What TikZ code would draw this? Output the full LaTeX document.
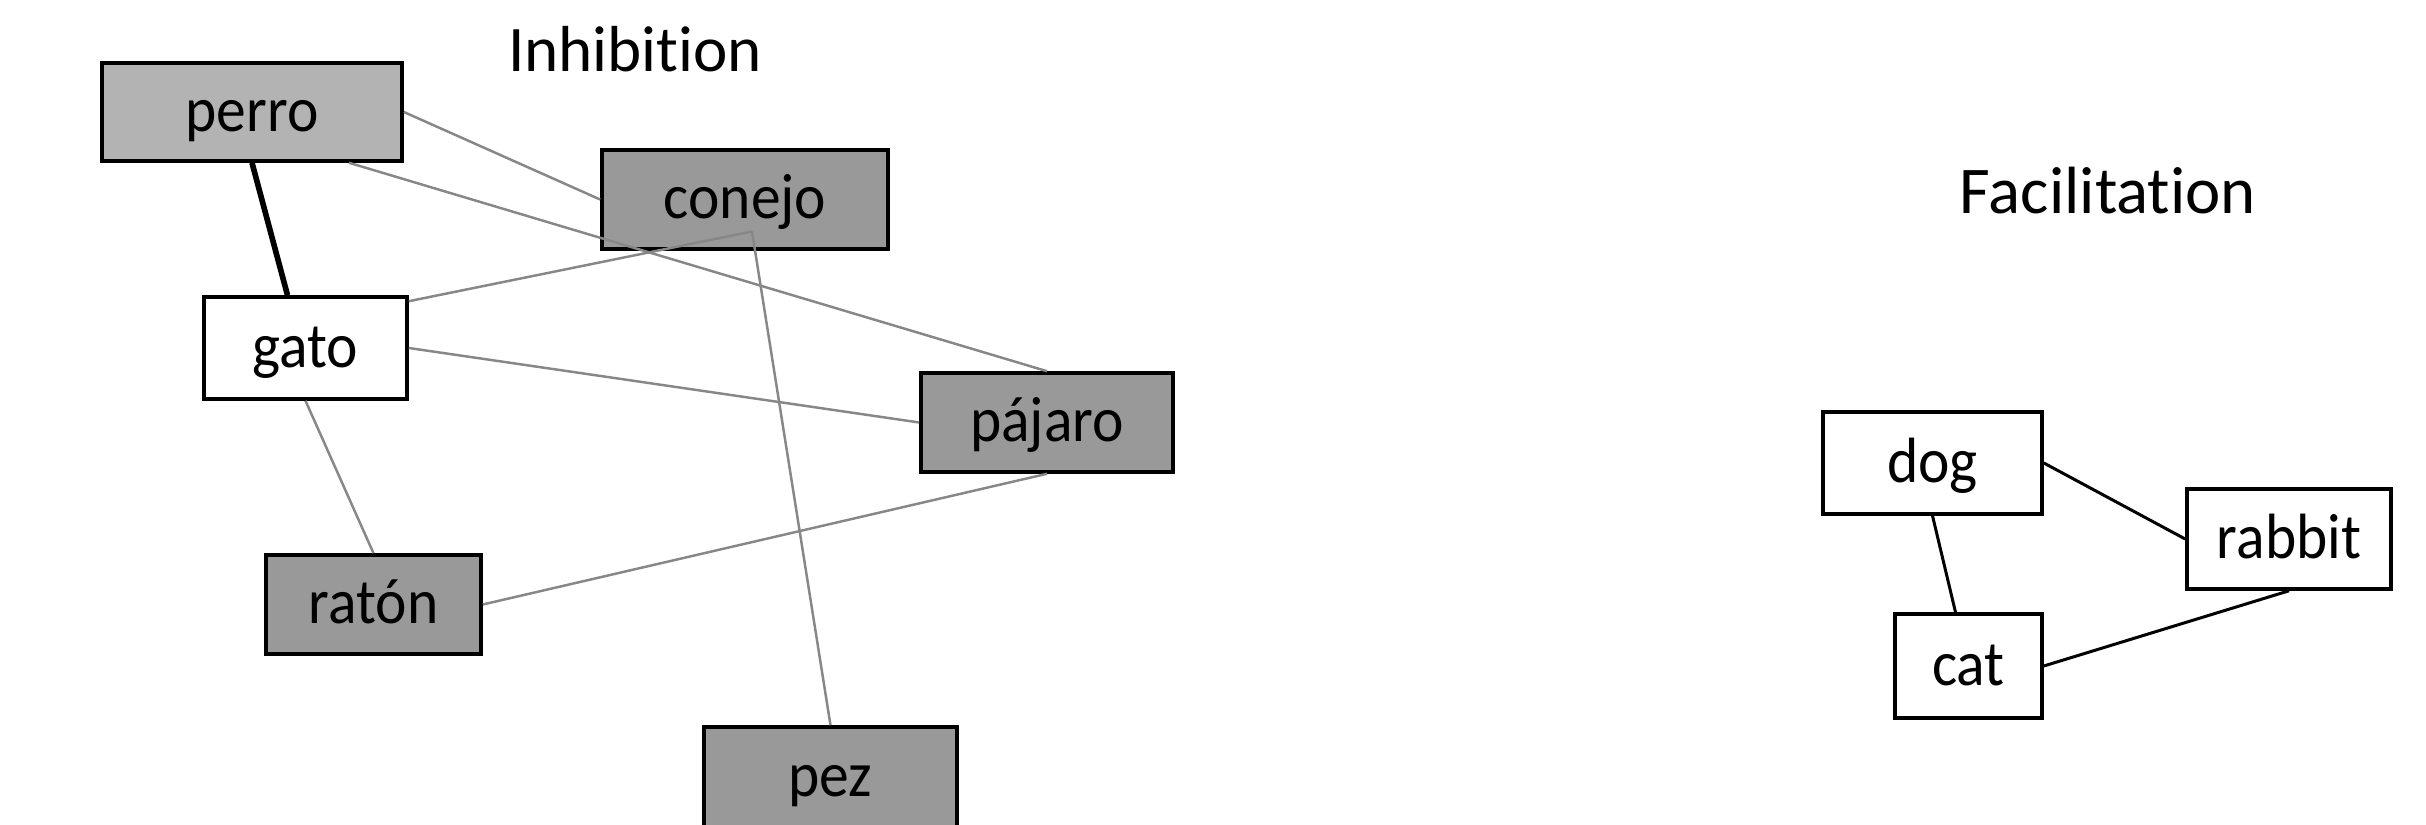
\documentclass[tikz,border=0pt]{standalone}
\usepackage{fontspec}
\setmainfont{Carlito}[Ligatures=NoCommon, RawFeature={-liga;-clig}]
\newfontfamily\boxfont{Carlito}[FakeStretch=0.93, Ligatures=NoCommon, RawFeature={-liga;-clig}]
\usetikzlibrary{calc}
\definecolor{lightfill}{RGB}{179,179,179}
\definecolor{darkfill}{RGB}{153,153,153}
\definecolor{linkgray}{RGB}{135,135,135}
\begin{document}
\begin{tikzpicture}[x=0.01cm,y=-0.01cm,
  word/.style={draw=black, line width=1pt, inner sep=0pt,
    font=\boxfont\fontsize{18.2}{22}\selectfont, text height=0.44cm, text depth=0.06cm},
  light/.style={word, fill=lightfill},
  dark/.style={word, fill=darkfill},
  plain/.style={word, fill=white},
  title/.style={anchor=base, inner sep=0pt, font=\fontsize{18.5}{22}\selectfont},
  weak/.style={draw=linkgray, line width=0.7pt},
  strong/.style={draw=black, line width=1.6pt},
  link/.style={draw=black, line width=0.85pt}]
\clip (0,0) rectangle (2426,825);
\fill[white] (0,0) rectangle (2426,825);

% Inhibition network
\node[title] (inh) at (635,72) {Inhibition};
\node[light, minimum width=3cm, minimum height=0.98cm] (perro) at (252,112) {perro};
\node[dark, minimum width=2.86cm, minimum height=0.99cm] (conejo) at (745,199.5) {conejo};
\node[plain, minimum width=2.03cm, minimum height=1.02cm] (gato) at (305.5,348) {gato};
\node[dark, minimum width=2.52cm, minimum height=0.99cm] (pajaro) at (1047,422.5) {pájaro};
\node[dark, minimum width=2.15cm, minimum height=0.99cm] (raton) at (373.5,604.5) {ratón};
\node[dark, minimum width=2.53cm, minimum height=1.0cm] (pez) at (830.5,777) {pez};

\coordinate (hub) at ($(conejo.center)+(7,32)$);
\draw[weak] (perro.east) -- (conejo.west);
\draw[weak] ($(perro.south)+(97,0)$) -- (pajaro.north);
\draw[strong] (perro.south) -- ($(gato.north)+(-18,0)$);
\draw[weak] ($(gato.north east)+(0,6)$) -- (hub);
\draw[weak] (hub) -- (pez.north);
\draw[weak] (gato.east) -- (pajaro.west);
\draw[weak] (gato.south) -- (raton.north);
\draw[weak] (raton.east) -- (pajaro.south);

% Facilitation network
\node[title, font=\fontsize{19}{23}\selectfont] (fac) at (2108,214) {Facilitation};
\node[plain, minimum width=2.19cm, minimum height=1.02cm] (dog) at (1932.5,463) {dog};
\node[plain, minimum width=2.04cm, minimum height=1.0cm] (rabbit) at (2289,539) {rabbit};
\node[plain, minimum width=1.47cm, minimum height=1.04cm] (cat) at (1968.5,666) {cat};

\draw[link] (dog.east) -- (rabbit.west);
\draw[link] (dog.south) -- ($(cat.north)+(-13,0)$);
\draw[link] (cat.east) -- (rabbit.south);
\end{tikzpicture}
\end{document}
